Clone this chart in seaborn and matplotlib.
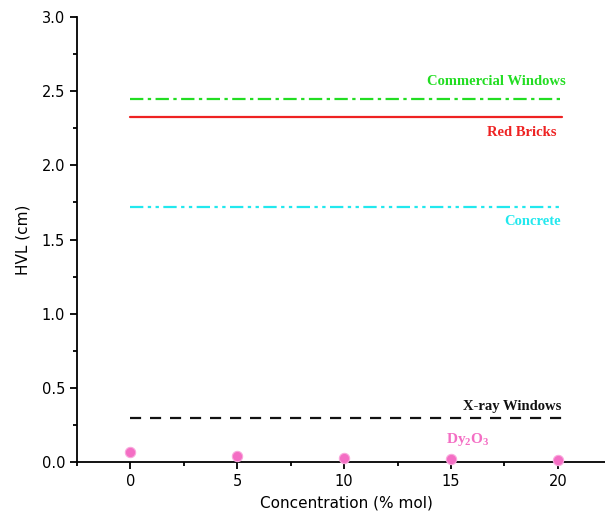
import matplotlib
matplotlib.use("Agg")
import matplotlib.pyplot as plt
import seaborn as sns
import pandas as pd
from matplotlib.ticker import MultipleLocator

sns.set_theme(style="ticks")
plt.rcParams['font.family'] = ['DejaVu Sans']

conc = [0, 5, 10, 15, 20]
dy_hvl = [0.067, 0.042, 0.028, 0.020, 0.014]

ref_names = ["Commercial Windows", "Red Bricks", "Concrete", "X-ray Windows"]
ref_values = [2.45, 2.325, 1.72, 0.295]
ref_colors = ["#22dd22", "#ee2222", "#22e8ee", "#111111"]
ref_styles = [(0, (6, 2, 1.5, 2)), "-", (0, (6, 2, 1.5, 2, 1.5, 2)), (0, (5, 4))]

fig = plt.figure(figsize=(6.05, 5.13), dpi=100)
ax = fig.add_axes([0.127, 0.0994, 0.873, 0.8674])

for name, v, c, ls in zip(ref_names, ref_values, ref_colors, ref_styles):
    d = pd.DataFrame({"x": [0, 20.2], "y": [v, v]})
    sns.lineplot(data=d, x="x", y="y", ax=ax, color=c, linestyle=ls, lw=1.6)

df = pd.DataFrame({"x": conc, "y": dy_hvl})
sns.scatterplot(data=df, x="x", y="y", ax=ax, color="#f46ec4", s=55,
                edgecolor="#f9a8dc", linewidth=0.8, zorder=5, clip_on=False)

serif = ["Liberation Serif", "DejaVu Serif"]
tkw = dict(family=serif, fontweight="bold", fontsize=10.5, ha="right")
ax.text(20.35, 2.54, "Commercial Windows", color="#22dd22", **tkw)
ax.text(19.95, 2.2, "Red Bricks", color="#ee2222", **tkw)
ax.text(20.15, 1.6, "Concrete", color="#22e8ee", **tkw)
ax.text(20.15, 0.35, "X-ray Windows", color="#111111", **tkw)
ax.text(15.8, 0.13, r"Dy$_\mathregular{2}$O$_\mathregular{3}$", color="#f46ec4", family=serif,
        fontweight="bold", fontsize=11, ha="center")

ax.set_xlim(-2.5, 22.2)
ax.set_ylim(0, 3.0)
ax.xaxis.set_major_locator(MultipleLocator(5))
ax.xaxis.set_minor_locator(MultipleLocator(2.5))
ax.yaxis.set_major_locator(MultipleLocator(0.5))
ax.yaxis.set_minor_locator(MultipleLocator(0.25))
ax.tick_params(which="major", direction="out", length=5, width=1.3, labelsize=10.5,
               color="black", labelcolor="black")
ax.tick_params(which="minor", direction="out", length=3, width=1.3, color="black")
ax.set_xlabel("Concentration (% mol)", fontsize=11, labelpad=0, color="black")
ax.set_ylabel("HVL (cm)", fontsize=11, labelpad=8, color="black")
ax.xaxis.set_label_coords(0.51, -0.075)
sns.despine(ax=ax)
for s in ["left", "bottom"]:
    ax.spines[s].set_linewidth(1.3)
    ax.spines[s].set_color("black")

fig.savefig("out.png", dpi=100)
